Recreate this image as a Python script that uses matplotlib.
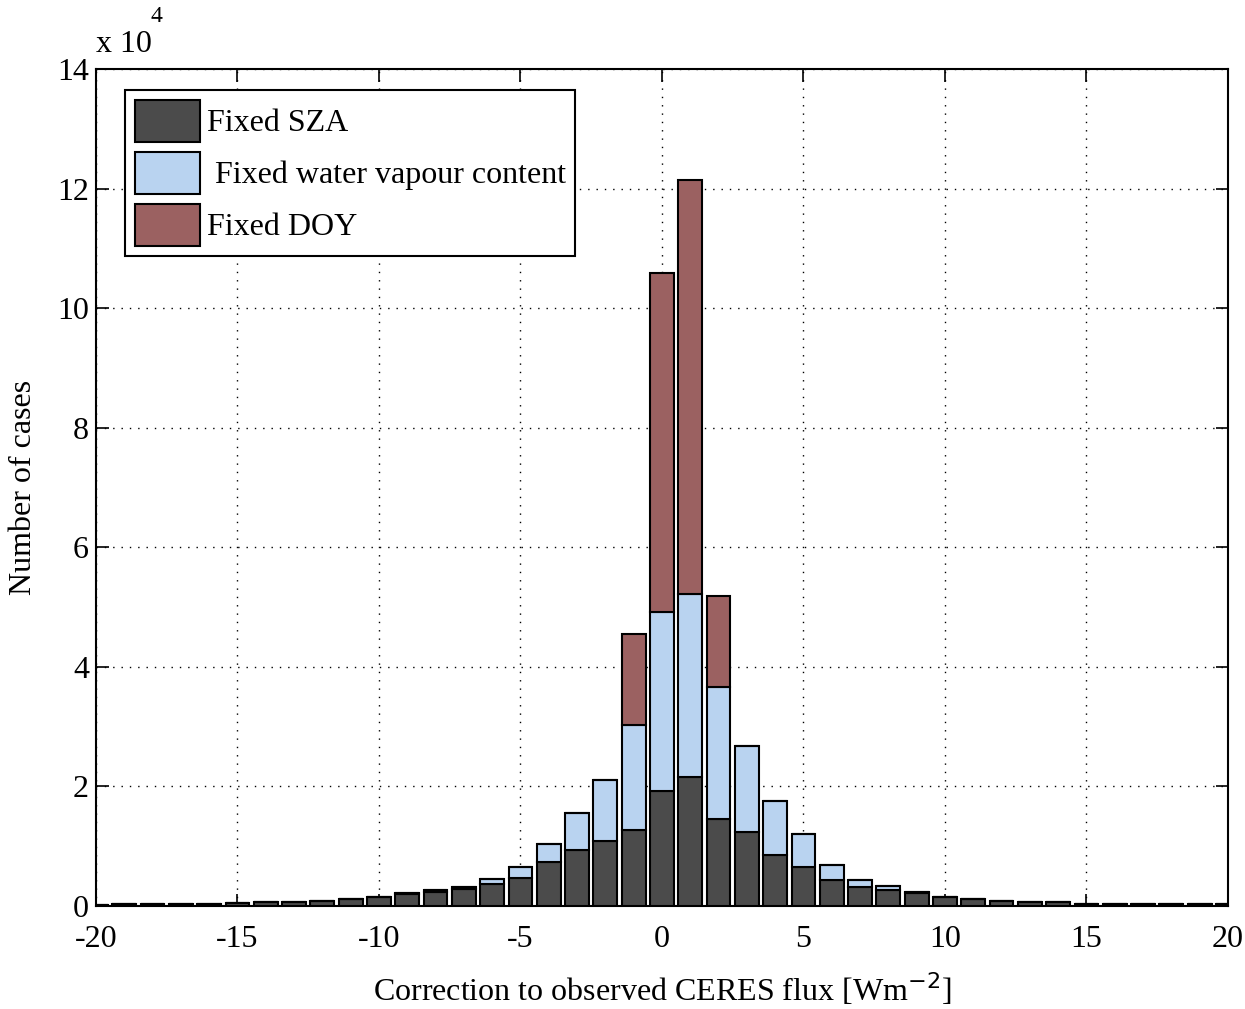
import numpy as np
import matplotlib
matplotlib.use("Agg")
import matplotlib.pyplot as plt
from matplotlib.ticker import FuncFormatter

plt.rcParams['font.family'] = ['Liberation Serif', 'DejaVu Serif']
plt.rcParams['axes.unicode_minus'] = False

# histogram bin centres [W m^-2]
bins = np.arange(-20, 21)

# number of cases per bin, in units of 1e4, one stacked segment per experiment
sza = [0.02, 0.04, 0.04, 0.04, 0.04, 0.05, 0.07, 0.07, 0.09, 0.12, 0.15,
       0.20, 0.24, 0.29, 0.37, 0.47, 0.73, 0.93, 1.08, 1.27,
       1.92, 2.16, 1.46, 1.24, 0.86, 0.66, 0.44, 0.32, 0.27, 0.21,
       0.15, 0.11, 0.08, 0.06, 0.06, 0.035, 0.035, 0.03, 0.03, 0.03, 0.03]
wvc = [0, 0, 0, 0, 0, 0, 0, 0, 0, 0, 0,
       0.01, 0.03, 0.03, 0.08, 0.18, 0.31, 0.62, 1.02, 1.75,
       2.99, 3.06, 2.21, 1.44, 0.90, 0.54, 0.25, 0.12, 0.06, 0.02,
       0, 0, 0, 0, 0, 0, 0, 0, 0, 0, 0]
doy = [0, 0, 0, 0, 0, 0, 0, 0, 0, 0, 0,
       0, 0, 0, 0, 0, 0, 0, 0, 1.53,
       5.67, 6.93, 1.52, 0, 0, 0, 0, 0, 0, 0,
       0, 0, 0, 0, 0, 0, 0, 0, 0, 0, 0]

labels = ['Fixed SZA', ' Fixed water vapour content', 'Fixed DOY']
colors = ['#4b4b4b', '#b9d3f0', '#9b6161']

FS = 23

fig = plt.figure(figsize=(12.45, 10.09), dpi=100)
ax = fig.add_axes([0.0771, 0.1021, 0.9092, 0.8295])

bottom = np.zeros(len(bins))
for vals, lab, col in zip([sza, wvc, doy], labels, colors):
    vals = np.array(vals)
    ax.bar(bins, vals, width=0.84, bottom=bottom, color=col,
           edgecolor='black', linewidth=1.5, label=lab, zorder=3)
    bottom += vals

ax.set_xlim(-20, 20)
ax.set_ylim(0, 14)
ax.set_xticks(np.arange(-20, 21, 5))
ax.set_yticks(np.arange(0, 15, 2))
ax.yaxis.set_major_formatter(FuncFormatter(lambda v, p: '%d' % v))

ax.grid(True, linestyle=(0, (1, 5)), color='black', linewidth=1.0, zorder=0)
ax.tick_params(direction='in', length=9, width=1.2, top=True, right=True,
               labelsize=FS)
ax.tick_params(axis='x', pad=14)
ax.tick_params(axis='y', pad=5)
for s in ax.spines.values():
    s.set_linewidth(1.5)

ax.set_xlabel('Correction to observed CERES flux [Wm$^{-2}$]', fontsize=FS,
              labelpad=12)
ax.set_ylabel('Number of cases', fontsize=FS, labelpad=14)

# exponent of the y axis
ax.text(0.0, 1.012, 'x 10', transform=ax.transAxes, fontsize=FS,
        ha='left', va='bottom')
ax.text(0.048, 1.05, '4', transform=ax.transAxes, fontsize=17,
        ha='left', va='bottom')

leg = ax.legend(loc='upper left', bbox_to_anchor=(0.0256, 0.975),
                borderaxespad=0, fontsize=FS, handlelength=2.06,
                handleheight=1.66, labelspacing=0.31, handletextpad=0.2,
                borderpad=0.3, fancybox=False, framealpha=1)
leg.get_frame().set_edgecolor('black')
leg.get_frame().set_linewidth(1.5)
leg.set_zorder(5)

fig.savefig('out.png', dpi=100)
